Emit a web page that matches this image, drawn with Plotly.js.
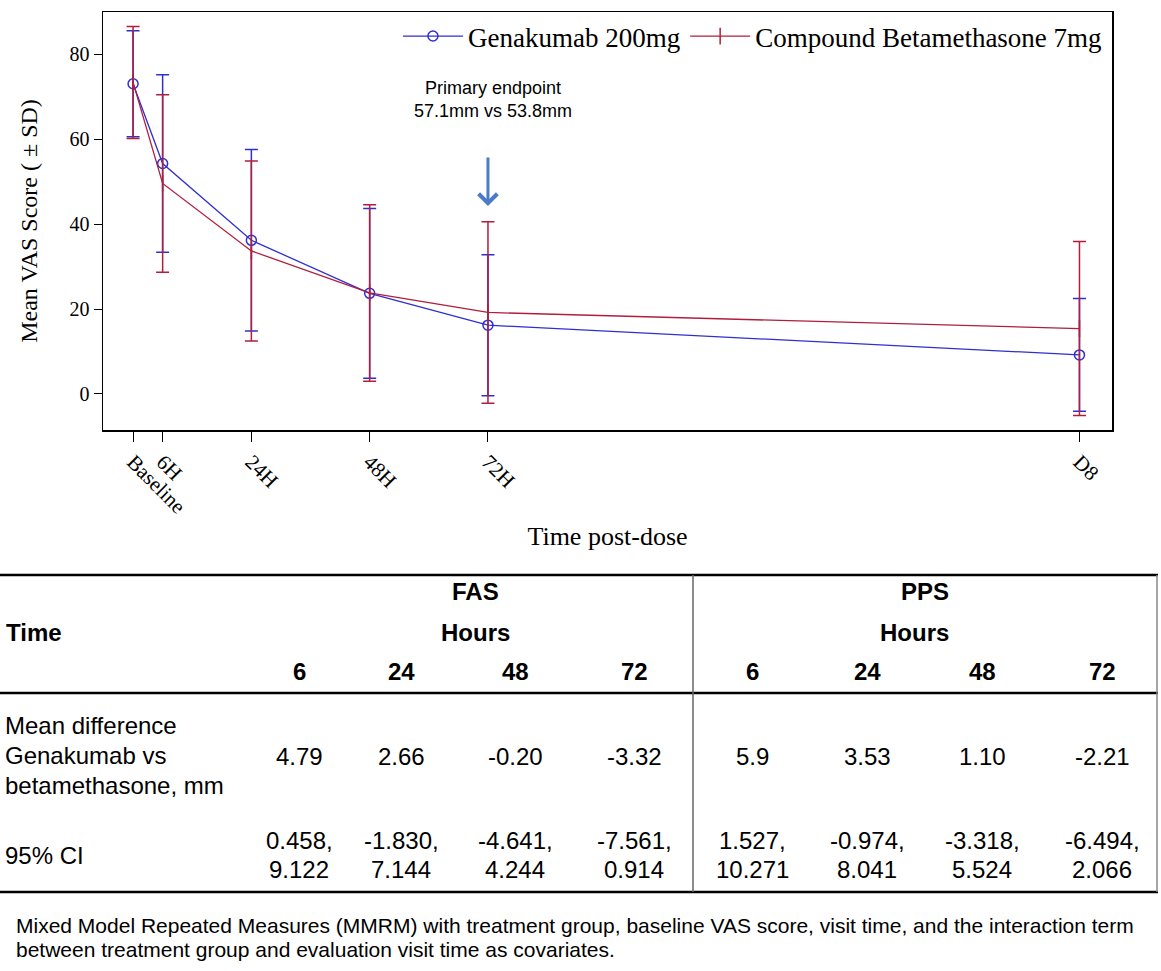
<!DOCTYPE html>
<html>
<head>
<meta charset="utf-8">
<script src="https://cdn.plot.ly/plotly-3.0.1.min.js"></script>
<style>html,body{margin:0;padding:0;background:#fff;}#chart{width:1161px;height:971px;}</style>
</head>
<body>
<div id="chart"></div>
<script>
// ---- data ----
const timeLabels = ['Baseline', '6H', '24H', '48H', '72H', 'D8'];
const timeHours = [0, 6, 24, 48, 72, 192];
const genaMean = [73.1, 54.3, 36.2, 23.7, 16.2, 9.2];
const genaSD = [12.5, 20.9, 21.4, 20.0, 16.6, 13.3];
const betaMean = [73.4, 49.6, 33.7, 23.8, 19.2, 15.4];
const betaSD = [13.2, 20.9, 21.2, 20.8, 21.4, 20.5];
const seriesNames = ['Genakumab 200mg', 'Compound Betamethasone 7mg'];

const tableHours = ['6', '24', '48', '72'];
const fasDiff = ['4.79', '2.66', '-0.20', '-3.32'];
const ppsDiff = ['5.9', '3.53', '1.10', '-2.21'];
const fasCI = [['0.458,', '9.122'], ['-1.830,', '7.144'], ['-4.641,', '4.244'], ['-7.561,', '0.914']];
const ppsCI = [['1.527,', '10.271'], ['-0.974,', '8.041'], ['-3.318,', '5.524'], ['-6.494,', '2.066']];
const rowLabelDiff = ['Mean difference', 'Genakumab vs', 'betamethasone, mm'];
const rowLabelCI = '95% CI';
const annotText = 'Primary endpoint<br>57.1mm vs 53.8mm';
const footnote = ['Mixed Model Repeated Measures (MMRM) with treatment group, baseline VAS score, visit time, and the interaction term',
                  'between treatment group and evaluation visit time as covariates.'];

// ---- layout helpers (pixel -> paper) ----
const W = 1161, H = 971;
const L = 103, R = 1112, T = 12, B = 430;
const px = x => (x - L) / (R - L);
const py = y => (B - y) / (B - T);

const blue = '#2f2fd0';
const red = '#b01e3c';

const traces = [
  {
    x: timeHours, y: genaMean, name: seriesNames[0], type: 'scatter', mode: 'lines+markers',
    line: {color: blue, width: 1.3},
    marker: {symbol: 'circle-open', size: 10, color: blue, line: {width: 1.5, color: blue}},
    error_y: {type: 'data', array: genaSD, visible: true, color: blue, thickness: 1.5, width: 6.5}
  },
  {
    x: timeHours, y: betaMean, name: seriesNames[1], type: 'scatter', mode: 'lines+markers',
    line: {color: red, width: 1.3},
    marker: {symbol: 'line-ns', size: 12, color: red, line: {width: 1.5, color: red}},
    error_y: {type: 'data', array: betaSD, visible: true, color: red, thickness: 1.5, width: 6.5}
  }
];

const shapes = [];
const annotations = [];
const lineShape = (x0, y0, x1, y1, w, c) => shapes.push({type: 'line', xref: 'paper', yref: 'paper',
  x0: px(x0), y0: py(y0), x1: px(x1), y1: py(y1), line: {color: c, width: w}});
lineShape(0, 575, 1158, 575, 2.5, '#000');
lineShape(0, 693, 1158, 693, 2.5, '#000');
lineShape(0, 892, 1158, 892, 2.5, '#000');
lineShape(693, 575, 693, 892, 1.5, '#666');
lineShape(1157, 575, 1157, 892, 1.5, '#888');

const tfont = {family: 'Liberation Sans, Arial, sans-serif', size: 24, color: '#000'};
const tbold = {family: 'Liberation Sans, Arial, sans-serif', size: 24, color: '#000', weight: 'bold'};
const txt = (x, y, text, font, xanchor) => annotations.push({xref: 'paper', yref: 'paper', x: px(x), y: py(y),
  text: text, showarrow: false, font: font, xanchor: xanchor || 'center', yanchor: 'middle', align: 'center'});

txt(475, 591, '<b>FAS</b>', tbold);
txt(925, 591, '<b>PPS</b>', tbold);
txt(4, 632, '<b>Time</b>', tbold, 'left');
txt(475, 632, '<b>Hours</b>', tbold);
txt(914, 632, '<b>Hours</b>', tbold);
const fasX = [299, 401, 515, 634];
const ppsX = [752, 867, 982, 1102];
tableHours.forEach((h, i) => { txt(fasX[i], 671, '<b>' + h + '</b>', tbold); txt(ppsX[i], 671, '<b>' + h + '</b>', tbold); });
rowLabelDiff.forEach((t, i) => txt(3, 725 + 30 * i, t, tfont, 'left'));
txt(3, 855, rowLabelCI, tfont, 'left');
fasDiff.forEach((v, i) => txt(fasX[i], 756, v, tfont));
ppsDiff.forEach((v, i) => txt(ppsX[i], 756, v, tfont));
fasCI.forEach((v, i) => { txt(fasX[i], 840, v[0], tfont); txt(fasX[i], 869, v[1], tfont); });
ppsCI.forEach((v, i) => { txt(ppsX[i], 840, v[0], tfont); txt(ppsX[i], 869, v[1], tfont); });

const ffont = {family: 'Liberation Sans, Arial, sans-serif', size: 21, color: '#000'};
footnote.forEach((t, i) => txt(14, 925 + 25 * i, t, ffont, 'left'));

// plot annotations
annotations.push({xref: 'paper', yref: 'paper', x: px(493), y: py(99), text: annotText, showarrow: false,
  font: {family: 'Liberation Sans, Arial, sans-serif', size: 18, color: '#000'}, xanchor: 'center', yanchor: 'middle', align: 'center'});
annotations.push({x: 72, y: 44.3, xref: 'x', yref: 'y', text: '', showarrow: true, ax: 0, ay: -50,
  arrowhead: 4, arrowsize: 1.2, arrowwidth: 3, arrowcolor: '#4a7bc8'});

const serif = 'Liberation Serif, Times New Roman, serif';
const layout = {
  width: W, height: H,
  margin: {l: L, r: W - R, t: T, b: H - B},
  paper_bgcolor: '#fff', plot_bgcolor: '#fff',
  showlegend: true,
  legend: {orientation: 'h', x: 0.995, xanchor: 'right', y: 1, yanchor: 'top', bgcolor: 'rgba(0,0,0,0)',
    font: {family: serif, size: 27, color: '#000'}, itemwidth: 60},
  xaxis: {
    range: [-6.1, 198.6], tickvals: timeHours, ticktext: timeLabels, tickangle: 45,
    ticks: 'outside', ticklen: 10, tickcolor: '#000', showgrid: false, zeroline: false,
    showline: true, linecolor: '#000', linewidth: 1.5, mirror: true,
    tickfont: {family: serif, size: 21, color: '#000'},
    title: {text: 'Time post-dose', font: {family: serif, size: 26, color: '#000'}, standoff: 9}
  },
  yaxis: {
    range: [-8.5, 90], tickvals: [0, 20, 40, 60, 80], ticks: 'outside', ticklen: 8, tickcolor: '#000',
    showgrid: false, zeroline: false, showline: true, linecolor: '#000', linewidth: 1.5, mirror: true,
    tickfont: {family: serif, size: 20, color: '#000'},
    title: {text: 'Mean VAS Score ( ± SD)', font: {family: serif, size: 24, color: '#000'}, standoff: 25}
  },
  shapes: shapes, annotations: annotations
};

Plotly.newPlot('chart', traces, layout, {displayModeBar: false, staticPlot: true});
</script>
</body>
</html>
